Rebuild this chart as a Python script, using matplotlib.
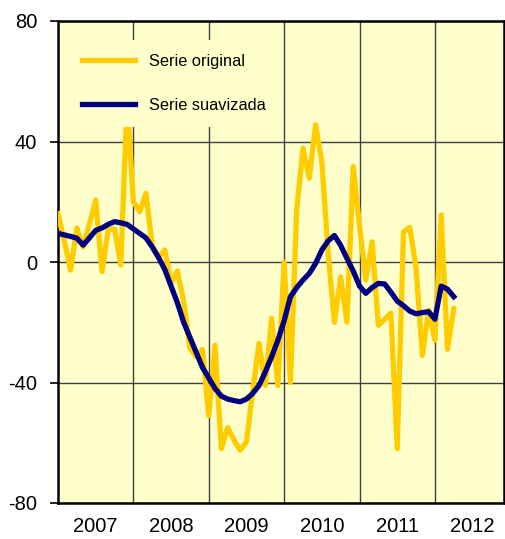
import numpy as np
import matplotlib.pyplot as plt
import matplotlib as mpl

mpl.rcParams["font.family"] = ["Liberation Sans", "DejaVu Sans"]

# datos mensuales, enero 2007 - abril 2012
serie_original = [16, 7, -2.7, 11.3, 5, 12.5, 20.6, -3.2, 10.6, 11, -1, 54,
                  20, 16.7, 22.8, 5.5, 1.5, 4, -7, -3, -13, -28.6, -31.5, -29,
                  -51, -27.6, -62, -55, -59, -62.5, -59.7, -43, -27, -41, -18.7, -41,
                  0, -40, 17.3, 37.8, 27.8, 45.5, 33.3, 3, -20, -5, -20, 31.7,
                  12, -6, 6.7, -21, -19, -17, -62, 10, 11.5, -2, -31, -16,
                  -26, 15.6, -29, -15.5]
serie_suavizada = [9.5, 9, 8.5, 7.9, 5.6, 8, 10.5, 11.3, 12.5, 13.4, 13, 12.5,
                   11, 9.5, 8, 5, 1.5, -2.5, -8, -13.5, -20, -25, -30, -35,
                   -38.5, -42, -44.5, -45.5, -46, -46.4, -45.5, -43.6, -41, -36.5, -31.5, -26,
                   -19.5, -11.5, -8.5, -6, -3.8, -0.5, 4, 7, 8.8, 5.5, 1.2, -3,
                   -8, -10.4, -8.5, -7.1, -7.3, -10, -13, -14.5, -16.3, -17.2, -16.8, -16.5,
                   -19, -8, -9, -11.5]
anios = ['2007', '2008', '2009', '2010', '2011', '2012']

meses = np.arange(len(serie_original))

fig = plt.figure(figsize=(5.05, 5.39), dpi=100)
ax = fig.add_axes([58/505, 1-503/539, 446/505, 482/539])
ax.set_facecolor('#FFFFCC')

ax.plot(meses, serie_original, color='#FFCC00', lw=3.8, label='Serie original', zorder=3)
ax.plot(meses, serie_suavizada, color='#000080', lw=3.8, label='Serie suavizada', zorder=4)

ax.set_xlim(0, 71)
ax.set_ylim(-80, 80)

# lineas de los años
ax.set_xticks(np.arange(12, 61, 12))
ax.set_xticks(np.arange(len(anios)) * 12 + 6, minor=True)
ax.set_xticklabels([], minor=False)
ax.set_xticklabels(anios, minor=True, fontsize=14.5)
ax.tick_params(axis='x', which='both', length=0, pad=10)
ax.set_yticks([-80, -40, 0, 40, 80])
ax.set_yticklabels(['-80', '-40', '0', '40', '80'], fontsize=14.5)
ax.tick_params(axis='y', length=6, width=1.2, pad=9, direction='out')
ax.grid(True, which='major', color='#404040', lw=1)

for s in ax.spines.values():
    s.set_linewidth(1.8)
    s.set_color('black')

leg = ax.legend(loc='upper left', bbox_to_anchor=(0.0235, 0.961), borderaxespad=0,
                fontsize=11.8, handlelength=3.2, handletextpad=0.85, labelspacing=1.8,
                borderpad=0.85, frameon=True, fancybox=False, framealpha=1)
leg.get_frame().set_facecolor('#FFFFCC')
leg.get_frame().set_edgecolor('none')
leg.set_zorder(10)

plt.savefig('out.png', dpi=100)
